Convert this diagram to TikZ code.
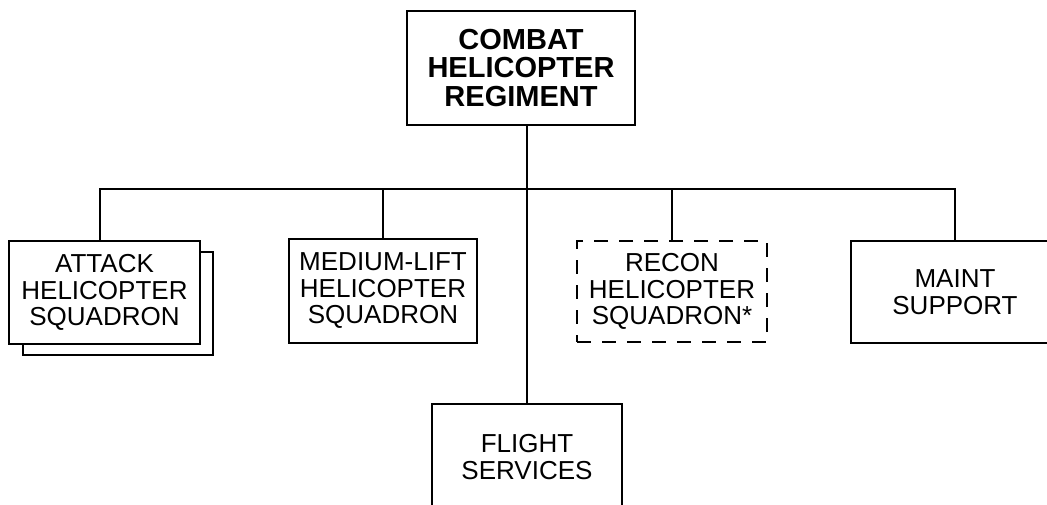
\documentclass[tikz,border=0pt]{standalone}
\usepackage{fontspec}
\setmainfont{Liberation Sans}
\begin{document}
\begin{tikzpicture}[x=1pt,y=-1pt,
  unitbox/.style={draw, line width=1.7pt, fill=white, align=center, inner sep=0pt,
    font=\fontsize{26}{26.5}\selectfont},
  topbox/.style={unitbox, font=\bfseries\fontsize{29}{28.8}\selectfont},
  dashbox/.style={unitbox, line width=1.3pt, dash pattern=on 14pt off 11pt},
  link/.style={line width=2pt}]
\useasboundingbox (0,0) rectangle (1047,505);
\clip (0,0) rectangle (1047,505);
\node[topbox, minimum width=228pt, minimum height=114pt] (top) at (521,68) {COMBAT\\HELICOPTER\\REGIMENT};
\node[unitbox, minimum width=190pt, minimum height=103pt] (shadow) at (118,303.5) {};
\node[unitbox, minimum width=191pt, minimum height=103pt] (attack) at (104.5,292.5) {ATTACK\\HELICOPTER\\SQUADRON};
\node[unitbox, minimum width=188pt, minimum height=104pt] (medium) at (383,291) {MEDIUM-LIFT\\HELICOPTER\\SQUADRON};
\node[dashbox, minimum width=190pt, minimum height=101pt] (recon) at (672,291.5) {RECON\\HELICOPTER\\SQUADRON*};
\node[unitbox, minimum width=208pt, minimum height=102pt] (maint) at (955,292) {MAINT\\SUPPORT};
\node[unitbox, minimum width=190pt, minimum height=106pt] (flight) at (527,457) {FLIGHT\\SERVICES};
\coordinate (bus) at (527,189);
\draw[link] (top.south -| flight.north) -- (flight.north);
\draw[link] ([xshift=-4.5pt]attack.north) |- (bus) -| (maint.north);
\draw[link] (medium.north) -- (medium.north |- bus);
\draw[link] (recon.north) -- (recon.north |- bus);
\end{tikzpicture}
\end{document}
